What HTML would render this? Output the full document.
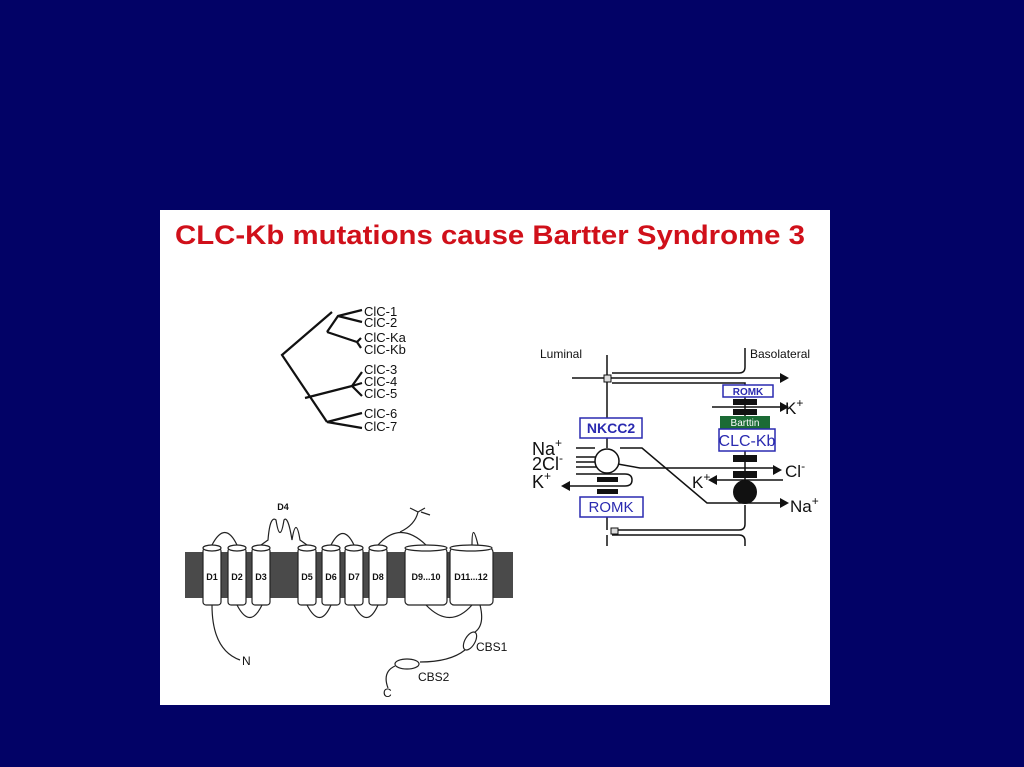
<!DOCTYPE html>
<html><head><meta charset="utf-8"><style>
html,body{margin:0;padding:0;background:#020266;width:1024px;height:767px;overflow:hidden}
svg{display:block}
text{font-family:"Liberation Sans",Arial,sans-serif}
</style></head><body>
<svg width="1024" height="767" viewBox="0 0 1024 767" xmlns="http://www.w3.org/2000/svg">
<rect x="0" y="0" width="1024" height="767" fill="#020266"/>
<rect x="160" y="210" width="670" height="495" fill="#ffffff"/>
<text x="175" y="244" font-size="27" font-weight="bold" fill="#d0101a" textLength="630" lengthAdjust="spacingAndGlyphs">CLC-Kb mutations cause Bartter Syndrome 3</text>

<!-- tree -->
<g stroke="#111" stroke-width="2.2" fill="none">
<path d="M332,312 L282,355 L327,422"/>
<path d="M327,332 L338,316 L362,310 M338,316 L362,322"/>
<path d="M327,332 L357,342 L361,338 M357,342 L361,348"/>
<path d="M305,398 L352,386 L362,372 M352,386 L362,383 M352,386 L362,396"/>
<path d="M327,422 L362,413 M327,422 L362,428"/>
</g>
<g font-size="13" fill="#111">
<text x="364" y="316">ClC-1</text><text x="364" y="327">ClC-2</text>
<text x="364" y="342">ClC-Ka</text><text x="364" y="354">ClC-Kb</text>
<text x="364" y="374">ClC-3</text><text x="364" y="386">ClC-4</text><text x="364" y="398">ClC-5</text>
<text x="364" y="418">ClC-6</text><text x="364" y="431">ClC-7</text>
</g>

<!-- right cell diagram -->
<g stroke="#111" stroke-width="1.5" fill="none">
<path d="M607,355 V418 M607,438 V448 M607,517 V530 M607,535 V546"/>
<path d="M745,348 V367 Q745,373 739,373 H612"/>
<path d="M612,383 H745 V480"/>
<path d="M745,505 V524 Q745,530 739,530 H612 M612,535 H739 Q745,535 745,541 V546"/>
<path d="M572,378 H780"/>
<path d="M712,407 H780"/>
<path d="M576,448 H595 M620,448 H642 L707,503 H780"/>
<path d="M576,457 H600 M576,462 H600 M576,467 H600 M612,463 L640,468 H773"/>
<path d="M576,474 H590 M590,474 H625 Q632,474 632,480 Q632,486 625,486 H570"/>
<path d="M783,480 H717"/>
</g>
<g fill="#111">
<polygon points="780,373 780,383 789,378"/>
<polygon points="780,402 780,412 789,407"/>
<polygon points="773,465 773,475 782,470"/>
<polygon points="570,481 570,491 561,486"/>
<polygon points="717,475 717,485 708,480"/>
<polygon points="780,498 780,508 789,503"/>
<rect x="733" y="399" width="24" height="6"/><rect x="733" y="409" width="24" height="6"/>
<rect x="733" y="455" width="24" height="7"/><rect x="733" y="471" width="24" height="7"/>
<circle cx="745" cy="492" r="12"/>
<rect x="597" y="477" width="21" height="5"/><rect x="597" y="489" width="21" height="5"/>
</g>
<rect x="604" y="375" width="7" height="7" fill="#ddd" stroke="#111"/>
<rect x="611" y="528" width="7" height="6" fill="#ddd" stroke="#111"/>
<circle cx="607" cy="461" r="12" fill="#fff" stroke="#111" stroke-width="1.5"/>
<rect x="723" y="385" width="50" height="12" fill="#fff" stroke="#2a2ab0" stroke-width="1.5"/>
<text x="748" y="395" font-size="10" font-weight="bold" fill="#2a2ab0" text-anchor="middle">ROMK</text>
<rect x="720" y="416" width="50" height="13" fill="#1b6b35"/>
<text x="745" y="426" font-size="10" fill="#fff" text-anchor="middle">Barttin</text>
<rect x="719" y="429" width="56" height="22" fill="#fff" stroke="#2a2ab0" stroke-width="1.5"/>
<text x="747" y="446" font-size="16" fill="#2a2ab0" text-anchor="middle">CLC-Kb</text>
<rect x="580" y="418" width="62" height="20" fill="#fff" stroke="#2a2ab0" stroke-width="1.5"/>
<text x="611" y="433" font-size="14" font-weight="bold" fill="#2a2ab0" text-anchor="middle">NKCC2</text>
<rect x="580" y="497" width="63" height="20" fill="#fff" stroke="#2a2ab0" stroke-width="1.5"/>
<text x="611" y="512" font-size="15" fill="#2a2ab0" text-anchor="middle">ROMK</text>
<g fill="#111">
<text x="540" y="358" font-size="12">Luminal</text>
<text x="750" y="358" font-size="12">Basolateral</text>
<text x="785" y="414" font-size="17">K<tspan font-size="12" dy="-7">+</tspan></text>
<text x="785" y="477" font-size="17">Cl<tspan font-size="12" dy="-7">-</tspan></text>
<text x="692" y="488" font-size="17">K<tspan font-size="12" dy="-7">+</tspan></text>
<text x="790" y="512" font-size="17">Na<tspan font-size="12" dy="-7">+</tspan></text>
<text x="532" y="455" font-size="18">Na<tspan font-size="12" dy="-8">+</tspan></text>
<text x="532" y="470" font-size="18">2Cl<tspan font-size="12" dy="-8">-</tspan></text>
<text x="532" y="488" font-size="18">K<tspan font-size="12" dy="-8">+</tspan></text>
</g>

<!-- membrane topology -->
<rect x="185" y="552" width="328" height="46" fill="#4a4a4a"/>
<g stroke="#222" stroke-width="1.2" fill="none">
<path d="M212,545 Q225,520 237,545 M261,545 L268,540 Q270,515 276,520 Q280,545 284,520 Q288,515 292,540 Q296,515 300,540 L307,545"/>
<path d="M331,545 Q343,522 354,545 M378,545 Q400,520 426,545 M472,545 Q472,520 478,545"/>
<path d="M400,532 Q415,525 418,512 L410,508 M418,512 L425,508 M421,512 L430,515"/>
<path d="M237,605 Q250,630 262,605 M307,605 Q320,630 331,605 M354,605 Q367,630 378,605 M426,605 Q450,630 472,605"/>
<path d="M212,605 Q212,650 240,660"/>
<path d="M480,605 Q485,625 475,632 M465,650 Q450,662 420,662 M395,666 Q382,672 388,688"/>
<ellipse cx="470" cy="641" rx="5" ry="10" transform="rotate(30 470 641)"/>
<ellipse cx="407" cy="664" rx="12" ry="5"/>
</g>
<g stroke="#222" stroke-width="1.2" fill="#fff">
<rect x="203" y="548" width="18" height="57" rx="3"/><ellipse cx="212" cy="548" rx="9" ry="3"/>
<rect x="228" y="548" width="18" height="57" rx="3"/><ellipse cx="237" cy="548" rx="9" ry="3"/>
<rect x="252" y="548" width="18" height="57" rx="3"/><ellipse cx="261" cy="548" rx="9" ry="3"/>
<rect x="298" y="548" width="18" height="57" rx="3"/><ellipse cx="307" cy="548" rx="9" ry="3"/>
<rect x="322" y="548" width="18" height="57" rx="3"/><ellipse cx="331" cy="548" rx="9" ry="3"/>
<rect x="345" y="548" width="18" height="57" rx="3"/><ellipse cx="354" cy="548" rx="9" ry="3"/>
<rect x="369" y="548" width="18" height="57" rx="3"/><ellipse cx="378" cy="548" rx="9" ry="3"/>
<rect x="405" y="548" width="42" height="57" rx="4"/><ellipse cx="426" cy="548" rx="21" ry="3"/>
<rect x="450" y="548" width="43" height="57" rx="4"/><ellipse cx="471" cy="548" rx="21" ry="3"/>
</g>
<g font-size="9" font-weight="bold" fill="#111" text-anchor="middle">
<text x="212" y="580">D1</text><text x="237" y="580">D2</text><text x="261" y="580">D3</text>
<text x="307" y="580">D5</text><text x="331" y="580">D6</text><text x="354" y="580">D7</text><text x="378" y="580">D8</text>
<text x="426" y="580">D9...10</text><text x="471" y="580">D11...12</text>
<text x="283" y="510">D4</text>
</g>
<g font-size="12" fill="#111">
<text x="242" y="665">N</text><text x="476" y="651">CBS1</text>
<text x="418" y="681">CBS2</text><text x="383" y="697">C</text>
</g>
</svg>
</body></html>
